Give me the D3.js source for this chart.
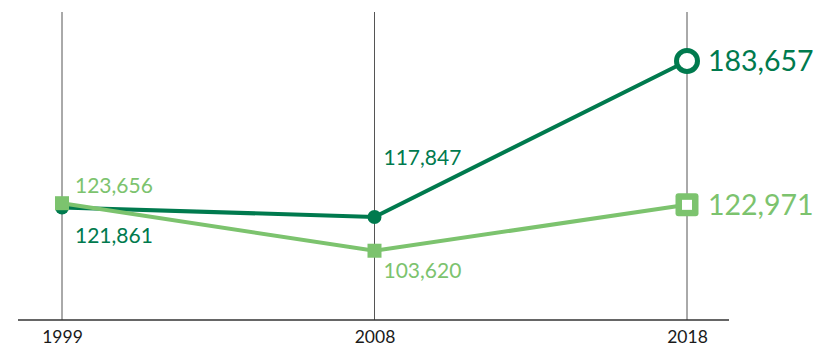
<!DOCTYPE html>
<html><head><meta charset="utf-8">
<script src="https://cdn.jsdelivr.net/npm/d3@7"></script>
<style>body{margin:0;background:#fff}svg{display:block;font-family:Lato,"Noto Sans",sans-serif}</style>
</head><body><svg id="c" width="839" height="349"></svg>
<script>
const years = ["1999","2008","2018"];
const darkValues = [121861, 117847, 183657];
const lightValues = [123656, 103620, 122971];
const darkLabels = ["121,861","117,847","183,657"];
const lightLabels = ["123,656","103,620","122,971"];
const DARK = "#007a4e", LIGHT = "#7cc36e";

const svg = d3.select("#c");
const x = d3.scalePoint().domain(years).range([62, 687]);
const y = d3.scaleLinear().domain([74400, 204300]).range([320, 12]);

// gridlines
svg.append("g").selectAll("line").data(years).join("line")
  .attr("x1", d => x(d)).attr("x2", d => x(d)).attr("y1", 12).attr("y2", 320)
  .attr("stroke", "#555").attr("stroke-width", 1);

// axis
const ax = svg.append("g").attr("transform", "translate(0,320)")
  .call(d3.axisBottom(x).tickSize(0).tickPadding(11));
ax.select(".domain").remove();
ax.selectAll("text").attr("font-size", 17.5).attr("fill", "#1a1a1a").attr("font-family", "Lato,sans-serif");
svg.append("line").attr("x1", 18).attr("x2", 729).attr("y1", 320).attr("y2", 320)
  .attr("stroke", "#333").attr("stroke-width", 1.5);

const line = d3.line().x((d, i) => x(years[i])).y(d => y(d));

// dark series
svg.append("path").datum(darkValues).attr("d", line).attr("fill", "none")
  .attr("stroke", DARK).attr("stroke-width", 4);
svg.append("g").selectAll("circle").data(darkValues.slice(0, 2)).join("circle")
  .attr("cx", (d, i) => x(years[i])).attr("cy", d => y(d)).attr("r", 7).attr("fill", DARK);
svg.append("circle").attr("cx", x(years[2])).attr("cy", y(darkValues[2])).attr("r", 10.5)
  .attr("fill", "#fff").attr("stroke", DARK).attr("stroke-width", 5);

// light series
svg.append("path").datum(lightValues).attr("d", line).attr("fill", "none")
  .attr("stroke", LIGHT).attr("stroke-width", 4);
svg.append("g").selectAll("rect").data(lightValues.slice(0, 2)).join("rect")
  .attr("x", (d, i) => x(years[i]) - 7).attr("y", d => y(d) - 7)
  .attr("width", 14).attr("height", 14).attr("fill", LIGHT);
svg.append("rect").attr("x", x(years[2]) - 11.5).attr("y", y(lightValues[2]) - 11.5)
  .attr("width", 23).attr("height", 23).attr("rx", 3).attr("fill", LIGHT);
svg.append("rect").attr("x", x(years[2]) - 5).attr("y", y(lightValues[2]) - 5)
  .attr("width", 10).attr("height", 10).attr("fill", "#fff");

// labels
function lab(i, val, txt, color, dy, size, dx) {
  svg.append("text").attr("x", x(years[i]) + dx).attr("y", y(val) + dy)
    .attr("font-size", size).attr("fill", color).text(txt);
}
lab(0, lightValues[0], lightLabels[0], LIGHT, -10, 21, 13);
lab(0, darkValues[0], darkLabels[0], DARK, 36, 21, 13);
lab(1, darkValues[1], darkLabels[1], DARK, -52, 21, 9);
lab(1, lightValues[1], lightLabels[1], LIGHT, 27, 21, 9);
lab(2, darkValues[2], darkLabels[2], DARK, 10, 28.5, 21);
lab(2, lightValues[2], lightLabels[2], LIGHT, 10, 28.5, 21);
</script></body></html>
